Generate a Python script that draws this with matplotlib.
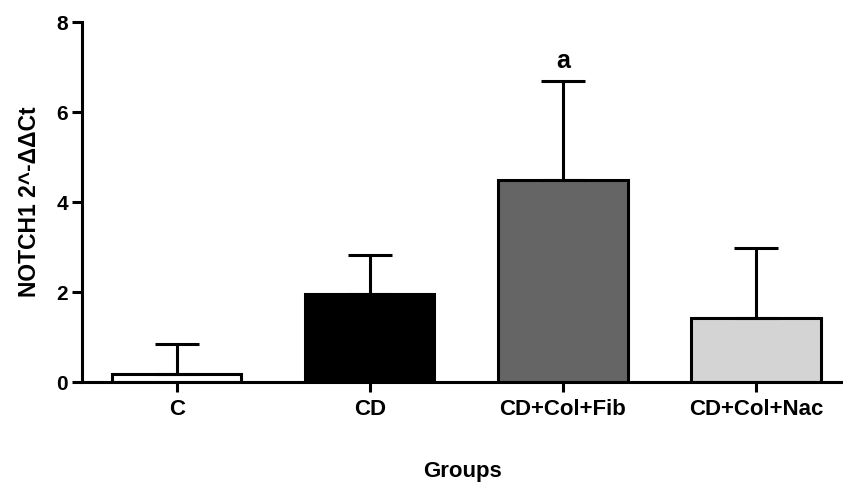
import matplotlib
matplotlib.use("Agg")
import matplotlib.pyplot as plt

categories = ["C", "CD", "CD+Col+Fib", "CD+Col+Nac"]
means = [0.18, 1.96, 4.49, 1.43]
upper_err = [0.66, 0.86, 2.20, 1.55]
bar_colors = ["#ffffff", "#000000", "#656565", "#d4d4d4"]
annotations = ["", "", "a", ""]
y_ticks = [0, 2, 4, 6, 8]

plt.rcParams['font.family'] = ['Liberation Sans', 'DejaVu Sans']
plt.rcParams['font.weight'] = 'bold'

fig = plt.figure(figsize=(8.43, 4.84), dpi=100)
ax = fig.add_axes([82/843, 102/484, 1 - 82/843, 360/484])

x = list(range(len(categories)))
ax.bar(x, means, width=0.67, color=bar_colors, edgecolor="black", linewidth=2.2, zorder=2)
ax.errorbar(x, means, yerr=[[0]*len(means), upper_err], fmt="none", ecolor="black",
            elinewidth=2.2, capsize=16, capthick=2.2, zorder=3)
for xi, m, e, a in zip(x, means, upper_err, annotations):
    if a:
        ax.text(xi, m + e + 0.18, a, ha="center", va="bottom", fontsize=18, fontweight="bold")

ax.set_xlim(-0.49, 3.45)
ax.set_ylim(0, 8)
ax.set_yticks(y_ticks)
ax.set_xticks(x)
ax.set_xticklabels(categories)
ax.spines["top"].set_visible(False)
ax.spines["right"].set_visible(False)
ax.spines["left"].set_linewidth(2.2)
ax.spines["bottom"].set_linewidth(2.2)
ax.tick_params(axis="both", width=2.2, length=7, labelsize=15, direction="out")
ax.tick_params(axis="x", labelsize=16, pad=5)
ax.tick_params(axis="y", pad=3)
for lbl in ax.get_xticklabels() + ax.get_yticklabels():
    lbl.set_fontweight("bold")
ax.set_ylabel("NOTCH1 2^-ΔΔCt", fontsize=16.5, fontweight="bold")
ax.yaxis.set_label_coords(-(82-30)/(843-82), 0.5)
ax.set_xlabel("Groups", fontsize=16, fontweight="bold")
ax.xaxis.set_label_coords((462-82)/(843-82), -(471-382)/360)
ax.xaxis.label.set_va("center")
ax.yaxis.label.set_va("center")

fig.savefig("out.png", dpi=100)
